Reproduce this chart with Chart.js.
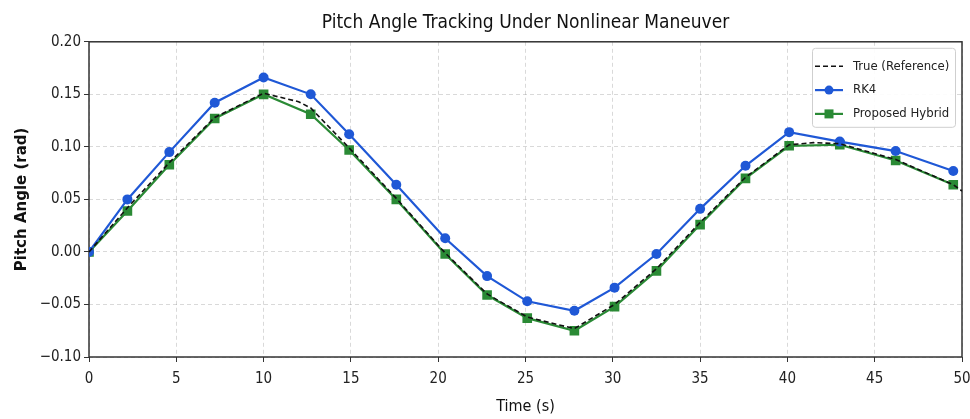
<!DOCTYPE html>
<html><head><meta charset="utf-8">
<script src="https://cdn.jsdelivr.net/npm/chart.js@4/dist/chart.umd.min.js"></script>
<style>html,body{margin:0;padding:0;background:#fff}#wrap{width:970px;height:419px}</style>
</head><body><div id="wrap"><canvas id="c" width="970" height="419"></canvas></div>
<script>
// ---- data ----
const times  = [0, 2.2, 4.6, 7.2, 10.0, 12.7, 14.9, 17.6, 20.4, 22.8, 25.1, 27.8, 30.1, 32.5, 35.0, 37.6, 40.1, 43.0, 46.2, 49.5];
const rk4    = [0, 0.050, 0.095, 0.142, 0.166, 0.150, 0.112, 0.064, 0.013, -0.023, -0.047, -0.056, -0.034, -0.002, 0.041, 0.082, 0.114, 0.105, 0.096, 0.077];
const hybrid = [0, 0.039, 0.083, 0.127, 0.150, 0.131, 0.097, 0.050, -0.002, -0.041, -0.063, -0.075, -0.052, -0.018, 0.026, 0.070, 0.101, 0.102, 0.087, 0.064];
const trueTimes  = [0, 2.2, 4.6, 7.2, 10.0, 12.0, 12.7, 14.9, 17.6, 20.4, 22.8, 25.1, 27.8, 30.1, 32.5, 35.0, 37.6, 40.1, 41.5, 43.0, 46.2, 49.5, 50.0];
const trueValues = [0, 0.042, 0.085, 0.128, 0.151, 0.143, 0.137, 0.099, 0.051, -0.001, -0.040, -0.062, -0.073, -0.050, -0.016, 0.028, 0.071, 0.102, 0.104, 0.103, 0.088, 0.064, 0.058];
const seriesNames = ['True (Reference)', 'RK4', 'Proposed Hybrid'];
const xTickStep = 5, xMin = 0, xMax = 50;
const yTickStep = 0.05, yMin = -0.10, yMax = 0.20;
const titleText = 'Pitch Angle Tracking Under Nonlinear Maneuver';
const xTitle = 'Time (s)';
const yTitle = 'Pitch Angle (rad)';

const NARROW = '"Liberation Sans Narrow", "DejaVu Sans Condensed", Roboto, sans-serif';
const BLUE = '#1f58d6', GREEN = '#2a8a35', BLACK = '#111111';

const pts = (xs, ys) => xs.map((x, i) => ({x, y: ys[i]}));

const frame = {
  id: 'frame',
  beforeDatasetsDraw(chart) {
    const {ctx, chartArea: a} = chart;
    ctx.save();
    ctx.strokeStyle = '#333';
    ctx.lineWidth = 1.5;
    ctx.strokeRect(a.left, a.top, a.right - a.left, a.bottom - a.top);
    ctx.restore();
  }
};

const legendBox = {
  id: 'legendBox',
  afterDraw(chart) {
    const {ctx, chartArea: a} = chart;
    const x0 = a.right - 150, y0 = a.top + 6, w = 143, h = 79;
    ctx.save();
    ctx.fillStyle = 'rgba(255,255,255,0.9)';
    ctx.strokeStyle = '#cfcfcf';
    ctx.lineWidth = 1;
    ctx.beginPath();
    if (ctx.roundRect) ctx.roundRect(x0 + 0.5, y0 + 0.5, w, h, 3); else ctx.rect(x0 + 0.5, y0 + 0.5, w, h);
    ctx.fill(); ctx.stroke();
    const ds = chart.data.datasets;
    ds.forEach((d, i) => {
      const y = y0 + 18.5 + i * 23.8;
      ctx.strokeStyle = d.borderColor;
      ctx.lineWidth = d.borderWidth;
      ctx.setLineDash(d.borderDash || []);
      ctx.beginPath(); ctx.moveTo(x0 + 3, y); ctx.lineTo(x0 + 31, y); ctx.stroke();
      ctx.setLineDash([]);
      if (d.pointRadius > 0) {
        ctx.fillStyle = d.pointBackgroundColor;
        if (d.pointStyle === 'rect') {
          ctx.fillRect(x0 + 17 - 4.5, y - 4.5, 9, 9);
        } else {
          ctx.beginPath(); ctx.arc(x0 + 17, y, 4.5, 0, Math.PI * 2); ctx.fill();
        }
      }
      ctx.fillStyle = '#222';
      ctx.font = '13px ' + NARROW;
      ctx.textBaseline = 'middle';
      ctx.textAlign = 'left';
      ctx.fillText(d.label, x0 + 41, y);
    });
    ctx.restore();
  }
};

new Chart(document.getElementById('c'), {
  type: 'line',
  data: {
    datasets: [
      {label: seriesNames[0], data: pts(trueTimes, trueValues), borderColor: BLACK, borderWidth: 1.6,
       borderDash: [5, 3], pointRadius: 0, fill: false, tension: 0},
      {label: seriesNames[1], data: pts(times, rk4), borderColor: BLUE, borderWidth: 2.2,
       pointRadius: 5, pointStyle: 'circle', pointBackgroundColor: BLUE, pointBorderColor: BLUE, pointBorderWidth: 0, fill: false, tension: 0},
      {label: seriesNames[2], data: pts(times, hybrid), borderColor: GREEN, borderWidth: 2.2,
       pointRadius: 6.8, pointStyle: 'rect', pointBackgroundColor: GREEN, pointBorderColor: GREEN, pointBorderWidth: 0, fill: false, tension: 0}
    ]
  },
  options: {
    responsive: false,
    animation: false,
    devicePixelRatio: 1,
    layout: {padding: {left: 0, right: 8, top: 0, bottom: 0}},
    plugins: {
      legend: {display: false},
      tooltip: {enabled: false},
      title: {display: true, fullSize: false, text: titleText, color: '#111',
              font: {family: NARROW, size: 19, weight: 'normal'}, padding: {top: 12, bottom: 7}}
    },
    scales: {
      x: {
        type: 'linear', min: xMin, max: xMax,
        afterFit(s) { s.height = 62; s.paddingRight = 0; s.paddingLeft = 0; },
        ticks: {stepSize: xTickStep, color: '#222', font: {family: NARROW, size: 15}, padding: 8,
                callback: v => String(v)},
        grid: {color: 'rgba(0,0,0,0.15)', lineWidth: 1, tickLength: 5, tickColor: '#333', tickWidth: 1, tickBorderDash: []},
        border: {display: false, dash: [4, 3]},
        title: {display: true, text: xTitle, color: '#111', font: {family: NARROW, size: 16}, padding: {top: 0, bottom: 3}}
      },
      y: {
        type: 'linear', min: yMin, max: yMax,
        afterFit(s) { s.width = 89; s.paddingTop = 0; s.paddingBottom = 0; },
        ticks: {stepSize: yTickStep, color: '#222', font: {family: NARROW, size: 15}, padding: 3,
                callback: v => (v < 0 ? '\u2212' : '') + Math.abs(v).toFixed(2)},
        grid: {color: 'rgba(0,0,0,0.15)', lineWidth: 1, tickLength: 5, tickColor: '#333', tickWidth: 1, tickBorderDash: []},
        border: {display: false, dash: [4, 3]},
        title: {display: true, text: yTitle, color: '#111', font: {family: '"DejaVu Sans", sans-serif', size: 15, weight: 'bold'}, padding: {top: 13, bottom: 0}}
      }
    }
  },
  plugins: [frame, legendBox]
});
</script></body></html>
